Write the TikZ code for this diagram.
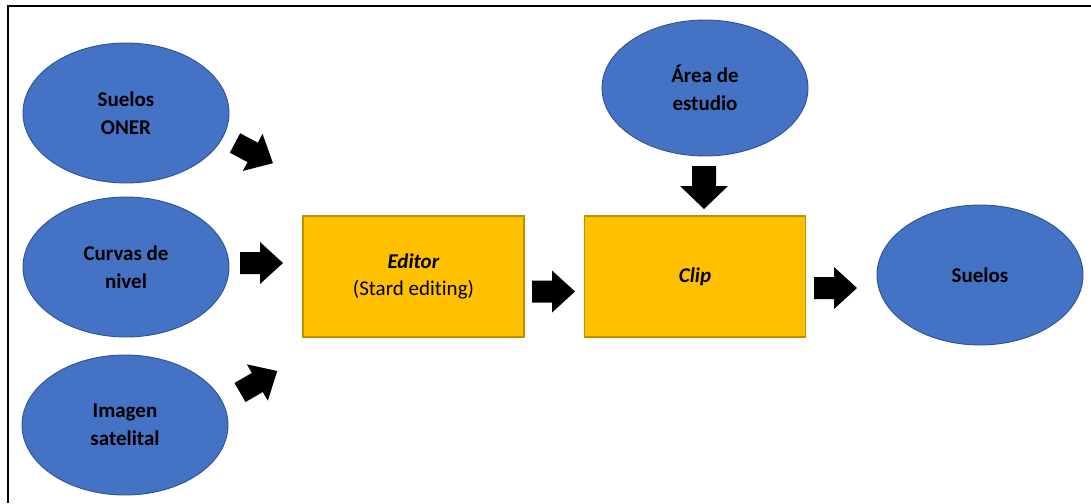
\documentclass[tikz,border=0pt]{standalone}
\usepackage{fontspec}
\setmainfont[Ligatures=NoCommon]{Carlito}
\usetikzlibrary{shapes.geometric}

\definecolor{ovalfill}{HTML}{4472C4}
\definecolor{ovalline}{HTML}{2F528F}
\definecolor{boxfill}{HTML}{FFC000}
\definecolor{boxline}{HTML}{BF9000}

\tikzset{
  oval/.style={ellipse, draw=ovalline, line width=0.9pt, fill=ovalfill,
    minimum width=206pt, minimum height=140pt, inner sep=0pt,
    align=center, font=\fontsize{21}{27.5}\selectfont\bfseries},
  stepbox/.style={rectangle, draw=boxline, line width=1.2pt, fill=boxfill,
    minimum width=221pt, minimum height=121pt, inner sep=0pt,
    align=center, font=\fontsize{21}{27.5}\selectfont},
  blockarrow/.pic={
    \fill[black] (0,-11) -- (20,-11) -- (20,-21) -- (43,0) -- (20,21)
      -- (20,11) -- (0,11) -- cycle;
  },
  widearrow/.pic={
    \fill[black] (0,-12) -- (20,-12) -- (20,-24) -- (43,0) -- (20,24)
      -- (20,12) -- (0,12) -- cycle;
  },
  frameline/.style={line width=2pt, black}
}

\begin{document}
\begin{tikzpicture}[x=1pt,y=-1pt]
  \useasboundingbox (0,0) rectangle (1091,503);

  % outer frame (left and top edges)
  \draw[frameline] (8,503) -- (8,6) -- (1091,6);

  % input layers
  \node[oval] (oner)   at (126,113) {Suelos\\ONER};
  \node[oval] (curvas) at (126,267) {Curvas de\\nivel};
  \node[oval] (imagen) at (125,425) {Imagen\\satelital};
  \node[oval, minimum height=136pt] (area) at (705,88) {Área de\\estudio};

  % processing steps
  \node[stepbox] (editor) at (413.5,276.5) {\textbf{\textit{Editor}}\\(Stard editing)};
  \node[stepbox] (clip)   at (695,276.5) {\textbf{\textit{Clip}}};

  % result
  \node[oval] (suelos) at (980,275) {Suelos};

  % block arrows between the elements
  \pic[rotate=-28] at (235,143) {blockarrow};
  \pic at (240,263) {blockarrow};
  \pic[rotate=30] at (240,392.5) {blockarrow};
  \pic at (532,291.5) {blockarrow};
  \pic[rotate=-90] at (704,166) {widearrow};
  \pic at (814,288) {blockarrow};
\end{tikzpicture}
\end{document}
